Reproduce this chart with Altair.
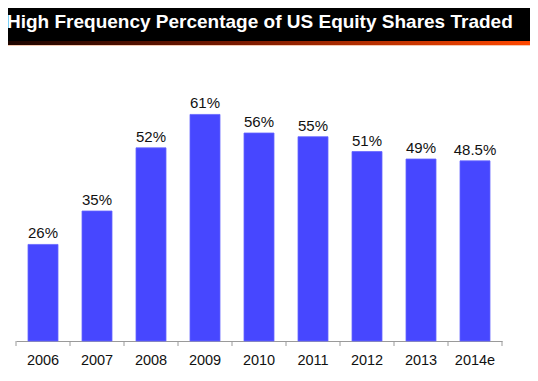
import altair as alt
import pandas as pd

YEARS = ["2006", "2007", "2008", "2009", "2010", "2011", "2012", "2013", "2014e"]
SHARES = [26, 35, 52, 61, 56, 55, 51, 49, 48.5]
TITLE = "High Frequency Percentage of US Equity Shares Traded"

df = pd.DataFrame({"year": YEARS, "share": SHARES})
df["label"] = [f"{v:g}%" for v in SHARES]

W, H = 486, 260
FONT = "Liberation Sans"

x = alt.X(
    "year:N",
    sort=YEARS,
    scale=alt.Scale(paddingInner=4 / 9, paddingOuter=2 / 9),
    axis=alt.Axis(
        title=None, labelAngle=0, ticks=False, grid=False,
        domainColor="#9a9a9a", domainWidth=1,
        labelFont=FONT, labelFontSize=14.5, labelColor="#111111",
        labelPadding=12,
    ),
)
y = alt.Y("share:Q", scale=alt.Scale(domain=[0, 70]), axis=None)

base = alt.Chart(df)
bars = base.mark_bar(color="#4747FF", stroke="#6666ff", strokeWidth=0.8).encode(x=x, y=y)
labels = base.mark_text(
    baseline="alphabetic", dy=-6, font=FONT, fontSize=15, color="#111111"
).encode(x=x, y=y, text="label:N")
ticks = base.mark_rule(color="#9a9a9a", xOffset=-27).encode(
    x=x, y=alt.value(H), y2=alt.value(H + 5)
)

one = pd.DataFrame({"t": [TITLE]})
end_tick = alt.Chart(one).mark_rule(color="#9a9a9a").encode(
    x=alt.value(W), y=alt.value(H), y2=alt.value(H + 5)
)

header = alt.Chart(one).mark_rect(color="#000000").encode(
    x=alt.value(-16), x2=alt.value(W + 28), y=alt.value(-81), y2=alt.value(-40)
)
grad = alt.LinearGradient(
    gradient="linear",
    stops=[
        alt.GradientStop(color="#1a0400", offset=0),
        alt.GradientStop(color="#7a1a00", offset=0.45),
        alt.GradientStop(color="#ff4800", offset=1),
    ],
    x1=0, x2=1, y1=0, y2=0,
)
stripe = alt.Chart(one).mark_rect(color=grad).encode(
    x=alt.value(-16), x2=alt.value(W + 28), y=alt.value(-40), y2=alt.value(-36)
)
light = alt.Chart(one).mark_rect(color="#f5c8b0").encode(
    x=alt.value(-16), x2=alt.value(W + 28), y=alt.value(-36), y2=alt.value(-35)
)
title = alt.Chart(one).mark_text(
    align="left", baseline="alphabetic", font=FONT, fontWeight="bold",
    fontSize=19, color="#ffffff"
).encode(x=alt.value(-9), y=alt.value(-53), text="t:N")

chart = (
    alt.layer(header, stripe, light, title, bars, labels, ticks, end_tick)
    .properties(
        width=W, height=H,
        padding={"left": 8, "top": 73, "right": 28, "bottom": 32},
        autosize=alt.AutoSizeParams(type="none"),
        background="white",
    )
    .configure_view(stroke=None)
)

chart.save("out.html", embed_options={"renderer": "svg", "actions": False})
